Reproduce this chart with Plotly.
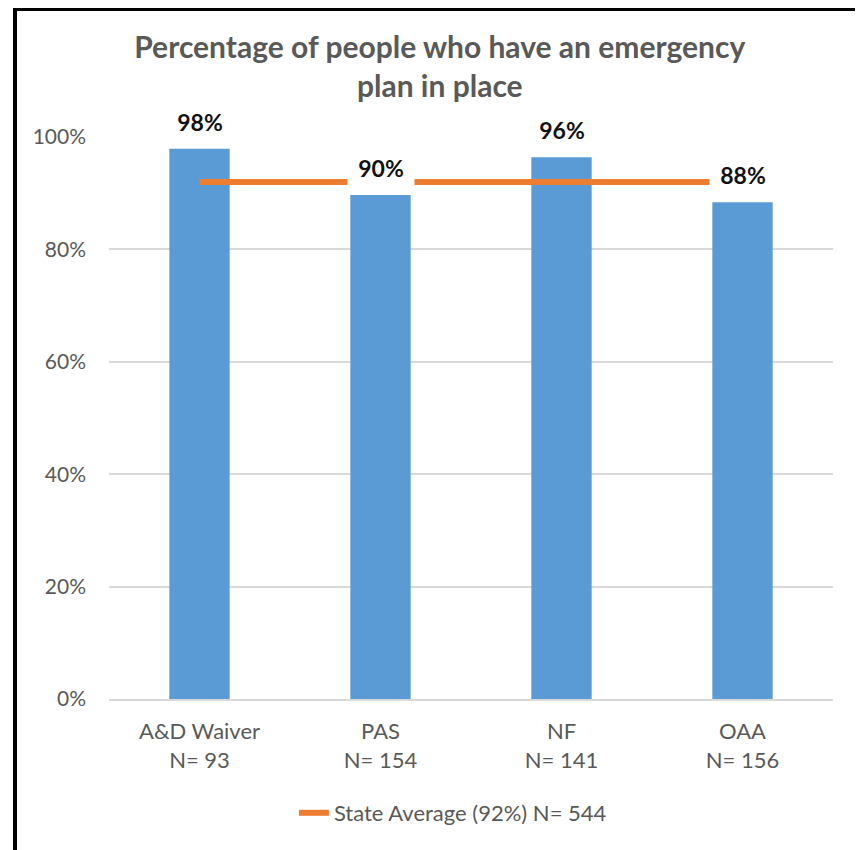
import plotly.graph_objects as go

categories = ["A&D Waiver<br>N= 93", "PAS<br>N= 154", "NF<br>N= 141", "OAA<br>N= 156"]
values = [0.979, 0.897, 0.964, 0.884]
value_labels = ["98%", "90%", "96%", "88%"]
state_avg = 0.92
state_avg_name = "State Average (92%) N= 544"
y_ticks = [0, 0.2, 0.4, 0.6, 0.8, 1.0]
y_tick_labels = ["0%", "20%", "40%", "60%", "80%", "100%"]
title_text = "Percentage of people who have an emergency<br>plan in place"

FONT = "Lato, 'Open Sans', sans-serif"
GRAY = "#595959"
# page body has an 8px margin, so the figure is laid out 8px smaller
W, H = 855, 842
ML, MR, MT, MB = 101, 30, 129, 151
PW, PH = W - ML - MR, H - MT - MB

fig = go.Figure()
fig.add_bar(
    x=categories, y=values,
    marker=dict(color="#5B9BD5", line_width=0),
    showlegend=False, hoverinfo="skip",
)
fig.add_scatter(
    x=categories, y=[state_avg] * len(categories),
    mode="lines", line=dict(color="#ED7D31", width=6),
    name=state_avg_name, hoverinfo="skip",
)

for c, v, t in zip(categories, values, value_labels):
    fig.add_annotation(
        x=c, y=v, text="<b>%s</b>" % t, showarrow=False,
        yanchor="bottom", yshift=7,
        bgcolor="white", borderpad=5, width=56,
        font=dict(family=FONT, size=23, color="#111111"),
    )

def px_x(p):
    return (p - ML) / PW

def px_y(p):
    return (H - MB - p) / PH

fig.add_shape(
    type="rect", xref="paper", yref="paper",
    x0=px_x(7), x1=px_x(852), y0=px_y(900), y1=px_y(1),
    line=dict(color="black", width=4), fillcolor="rgba(0,0,0,0)",
    layer="above",
)

fig.update_layout(
    width=W, height=H,
    margin=dict(l=ML, r=MR, t=MT, b=MB),
    paper_bgcolor="white", plot_bgcolor="white",
    font=dict(family=FONT, color=GRAY),
    title=dict(
        text="<b>%s</b>" % title_text,
        x=0.505, xanchor="center", xref="container",
        y=1 - 50 / H, yanchor="top", yref="container",
        font=dict(family=FONT, size=30, color=GRAY),
    ),
    bargap=2 / 3,
    showlegend=True,
    legend=dict(
        orientation="h", x=0.475, xanchor="center",
        y=px_y(805), yanchor="middle",
        font=dict(family=FONT, size=22, color=GRAY),
        bgcolor="rgba(0,0,0,0)",
    ),
    xaxis=dict(
        showline=True, linecolor="#D9D9D9", linewidth=2,
        showgrid=False, ticks="",
        tickfont=dict(family=FONT, size=22, color=GRAY),
        ticklabelstandoff=12,
    ),
    yaxis=dict(
        range=[0, 1.0], tickvals=y_ticks, ticktext=y_tick_labels,
        showgrid=True, gridcolor="#D9D9D9", gridwidth=2,
        zeroline=False, showline=False, ticks="",
        tickfont=dict(family=FONT, size=21, color=GRAY),
        ticklabelstandoff=22,
    ),
)

fig.write_html("out.html")
